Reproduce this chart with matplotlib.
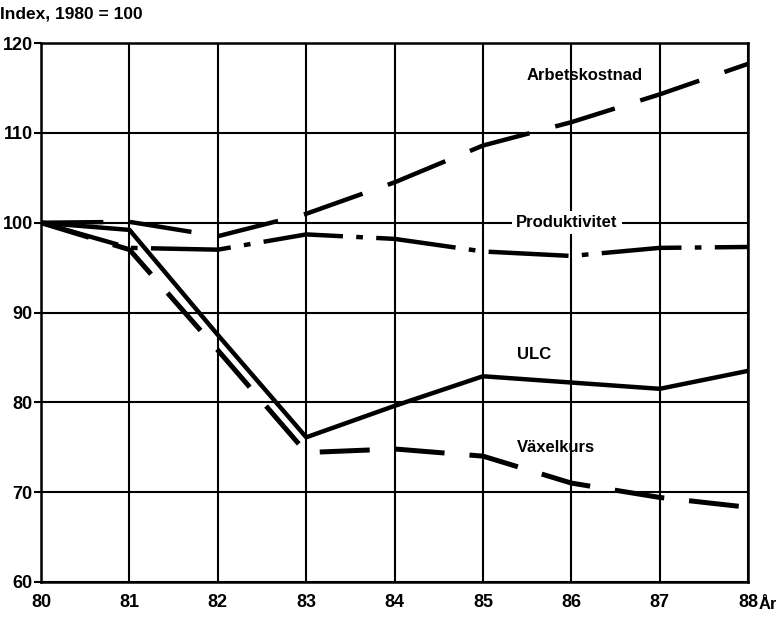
import numpy as np
import matplotlib.pyplot as plt

plt.rcParams['font.family'] = ['Liberation Sans', 'DejaVu Sans']
plt.rcParams['font.weight'] = 'bold'

years = [80, 81, 82, 83, 84, 85, 86, 87, 88]
arbetskostnad = [100, 100.1, 98.5, 101, 104.5, 108.6, 111.2, 114.3, 117.7]
produktivitet = [100, 97.2, 97.0, 98.7, 98.2, 96.8, 96.3, 97.2, 97.3]
ulc = [100, 99.2, 87.5, 76.1, 79.6, 82.9, 82.2, 81.5, 83.5]
vaxelkurs = [100, 97.0, 85.8, 74.4, 74.8, 74.0, 71.0, 69.4, 68.3]

fig = plt.figure(figsize=(7.76, 6.17), dpi=100)
ax = fig.add_axes([0.053, 0.057, 0.911, 0.873])

ax.set_xlim(80, 88)
ax.set_ylim(60, 120)
ax.set_xticks(years)
ax.set_yticks(np.arange(60, 121, 10))
ax.grid(True, color='black', linewidth=1.5)
for s in ax.spines.values():
    s.set_linewidth(1.8)
ax.tick_params(axis='y', length=5, width=1.5, labelsize=13, pad=1)
ax.tick_params(axis='x', length=0, labelsize=13, pad=9)

ax.plot(years, arbetskostnad, color='black', lw=3.2, dashes=(14, 6), solid_capstyle='butt')
ax.plot(years, produktivitet, color='black', lw=3.2, dashes=(18, 3, 1.5, 3), solid_capstyle='butt')
ax.plot(years, ulc, color='black', lw=3.2)
ax.plot(years, vaxelkurs, color='black', lw=3.6, dashes=(10, 5))

ax.text(86.15, 116.4, 'Arbetskostnad', ha='center', va='center', fontsize=12)
ax.text(85.95, 100.0, 'Produktivitet', ha='center', va='center', fontsize=12,
        bbox=dict(facecolor='white', edgecolor='none', pad=3))
ax.text(85.58, 85.3, 'ULC', ha='center', va='center', fontsize=12)
ax.text(85.83, 75.0, 'Växelkurs', ha='center', va='center', fontsize=12)

fig.text(0.0, 0.978, 'Index, 1980 = 100', ha='left', va='center', fontsize=12.5)
fig.text(0.978, 0.02, 'År', ha='left', va='center', fontsize=12)

fig.savefig('out.png', dpi=100)
